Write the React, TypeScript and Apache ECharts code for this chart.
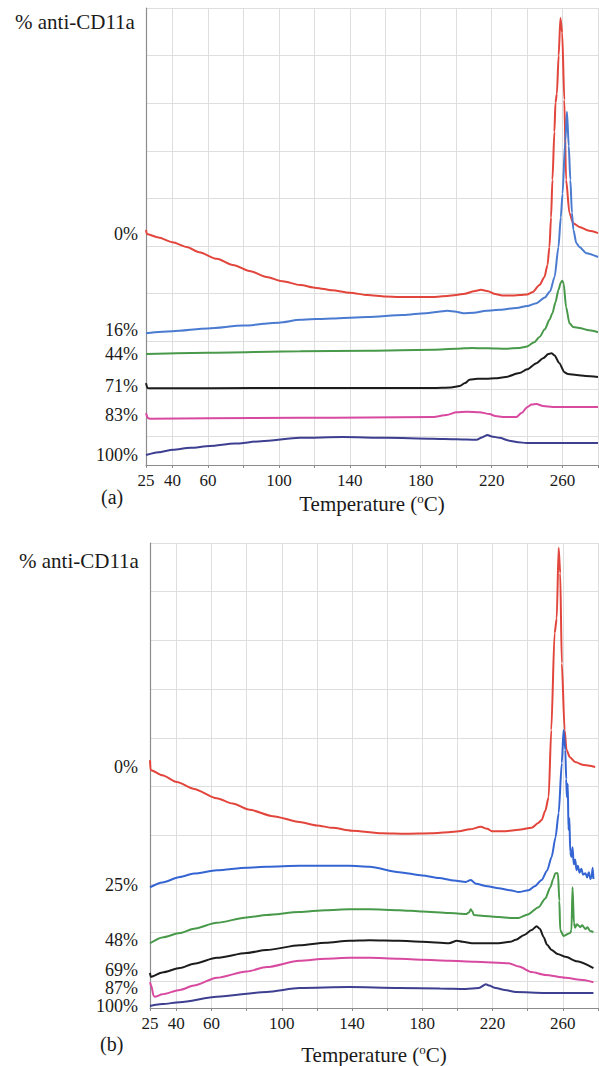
import React, { useEffect, useRef } from "react";
import * as echarts from "echarts";

// ---------- axis ticks / labels ----------
const xTickValues = [25, 40, 60, 80, 100, 120, 140, 160, 180, 200, 220, 240, 260, 280];
const xLabelValues = [25, 40, 60, 100, 140, 180, 220, 260];
const yGridA = [6, 16, 26, 36, 46, 56, 66, 76, 86, 96];
const yGridB = [5.5, 15.5, 25.5, 35.5, 45.5, 55.5, 65.5, 75.5, 85.5, 95.5];

// curve labels (% anti-CD11a) and their vertical positions
const labelsA = ["0%", "16%", "44%", "71%", "83%", "100%"];
const labelPosA = [48.5, 28.4, 23.3, 16.6, 10.5, 2.1];
const labelsB = ["0%", "25%", "48%", "69%", "87%", "100%"];
const labelPosB = [49.5, 25.3, 14.0, 7.8, 4.1, 0.4];

// ---------- panel (a) data: [temperature °C, signal] ----------
const redA = [[25,49.4],[25.5,48.5],[32,47.8],[40,46.8],[48,45.8],[55,44.7],[65,43.3],[74,42.0],[84,40.7],[93,39.5],[102,38.6],[112,37.8],[121,37.2],[130,36.7],[140,36.2],[150,35.7],[160,35.4],[168,35.3],[180,35.3],[187,35.3],[195,35.5],[200,35.7],[205,36.0],[210,36.5],[214,36.8],[218,36.5],[222,35.9],[226,35.6],[232,35.6],[236,35.7],[240,35.8],[243,36.3],[247,37.8],[249.8,39.5],[251.5,42],[252.6,45.8],[253.5,52],[254.3,59.9],[255.4,70],[256,76.1],[256.8,78],[257.8,86],[258.8,93.9],[259.8,90.8],[261,76.7],[262,59.9],[263.9,52.9],[266,50.8],[269.5,50.0],[275,49.2],[280,48.7]];
const blueA = [[25,27.7],[40,28.1],[60,28.7],[80,29.3],[100,29.9],[112,30.5],[130,30.8],[150,31.1],[170,31.5],[183,31.9],[190,32.2],[195,32.4],[200,32.2],[204,31.9],[210,32.0],[217,32.4],[225,32.6],[234,33.0],[240,33.4],[245.3,34.0],[250,35.2],[253,36.5],[255.5,39.5],[257.7,45.8],[259,52],[260,57],[261.5,68],[262.5,74.2],[263.5,67],[264.4,59.9],[265.3,53],[266.1,49.4],[267.8,46.6],[269.5,45.8],[273.5,44.5],[280,43.7]];
const greenA = [[25,23.3],[60,23.6],[112,23.9],[150,24.0],[187,24.2],[200,24.4],[209,24.6],[218,24.5],[228,24.4],[235.7,24.6],[240,24.9],[244,25.8],[247,26.9],[250,28.5],[252.6,30.5],[254.3,31.9],[256,34.2],[257.7,36.8],[259,38.3],[259.8,38.7],[260.6,38.2],[262,33.2],[263.9,29.8],[266,29.0],[269.5,28.8],[275,28.3],[280,27.9]];
const blackA = [[25,17.2],[25.8,16.2],[27,16.1],[60,16.1],[112,16.2],[150,16.2],[187,16.2],[197,16.3],[202,16.6],[205,17.2],[207.5,17.9],[212,18.1],[217,18.1],[222,18.2],[228,18.5],[235.7,19.3],[240,20.1],[245.3,21.4],[249,22.4],[252,23.3],[253.7,23.5],[255.5,23.0],[258.2,21.4],[261,19.5],[263,19.1],[267.8,18.9],[273,18.7],[280,18.5]];
const magentaA = [[25,10.9],[26.2,9.8],[27.5,9.7],[60,9.8],[112,9.9],[150,10.0],[187,10.1],[194.6,10.5],[200.2,11.1],[206,11.2],[213.2,11.1],[218.8,10.7],[222,10.3],[226.1,10.1],[234,10.1],[236.8,10.9],[240.2,12.2],[242.5,12.7],[245.3,12.8],[249,12.4],[254.3,12.2],[265,12.2],[280,12.2]];
const navyA = [[25,2.1],[32,2.7],[40.2,3.2],[50,3.6],[61,4.0],[75,4.5],[90,5.0],[111.8,5.7],[136,5.9],[160.8,5.7],[186.7,5.5],[200,5.4],[211.5,5.3],[214.5,5.8],[217.7,6.3],[220,6.0],[224.4,5.7],[230,5.1],[235,4.8],[239.6,4.6],[260,4.6],[280,4.6]];

// ---------- panel (b) data ----------
const redB = [[25,50.9],[25.3,48.9],[32,47.8],[40.3,46.4],[50,45.0],[63,43.1],[72,42.0],[81.7,40.7],[95,39.4],[110.1,38.2],[120,37.5],[128.8,37.0],[140,36.4],[157.2,35.9],[170,35.8],[185.5,35.9],[195,36.1],[200.8,36.3],[207,36.7],[213.3,37.2],[217,36.8],[219.6,36.3],[227.5,36.3],[234.9,36.6],[242.2,37.0],[246,38],[247.9,38.6],[250,40.5],[251.9,43.3],[253.4,57.1],[255.3,77.0],[256.5,80],[257.6,94.5],[258.5,89.3],[259.4,70.8],[261,57.1],[262.1,53.0],[264,51.5],[267,50.5],[272,49.9],[278.4,49.5]];
const blueB = [[25,24.8],[32,25.8],[42,26.9],[50,27.6],[63,28.3],[80,28.8],[91.4,29.0],[110.1,29.2],[125,29.2],[138.4,29.2],[150,29.0],[166.8,27.9],[180,27.2],[189.5,26.7],[198,26.2],[204.8,25.9],[207.6,26.3],[210.5,25.5],[217,25.0],[223.5,24.6],[230,24.2],[234.9,23.8],[240.5,24.2],[244,25],[247.9,26.3],[251,28.2],[253.6,31.0],[255.8,35],[257.6,40.0],[259.4,50.3],[260.4,57.1],[261.4,53.0],[261.9,47],[262.3,43.3],[262.8,46],[263.2,36.6],[263.7,39],[264.2,32],[264.9,31.0],[265.5,33],[266.2,29.5],[267,30.5],[267.8,28.3],[268.5,29.2],[269.5,27.8],[270.5,28.6],[271.5,27.4],[272.9,27.7],[273.8,26.8],[274.8,27.9],[275.7,26.5],[276.3,26.9],[277,28.8],[277.4,26.5]];
const greenB = [[25,13.3],[32,14.5],[42,15.4],[50,16.3],[63,17.5],[80,18.6],[91.4,19.1],[110.1,19.7],[125,20.1],[138.4,20.3],[150,20.3],[166.8,20.1],[180,19.8],[195.2,19.5],[204.8,19.3],[206.5,19.6],[207.6,20.3],[208.5,19.8],[209.3,19.1],[215,18.9],[223.5,18.7],[230,18.5],[234.9,18.5],[240,19.2],[246.2,20.7],[250,22.5],[252.9,24.8],[254.5,26.5],[255.7,27.7],[257.2,27.7],[258,22],[258.5,16.0],[260.4,14.8],[264.2,15.4],[264.9,16],[265.5,24.8],[266.3,17.5],[267,16.5],[268,17.2],[269.9,16.6],[271,17],[272.9,16.2],[274,16.6],[275.5,15.8],[277.4,15.6]];
const blackB = [[25,7.2],[25.4,6.4],[32,7.3],[42,8.2],[50,9.1],[63,10.3],[80,11.3],[91.4,11.9],[110.1,12.9],[125,13.4],[138.4,13.8],[150,13.9],[166.8,13.8],[180,13.6],[195.2,13.3],[199.7,13.8],[203,13.6],[208.2,13.3],[215,13.3],[223.5,13.3],[230,13.6],[233.2,14.0],[238,15.0],[242.2,16.0],[245.1,16.8],[247,16.2],[249,14.6],[251,13.0],[253.6,11.9],[257,11.1],[261.5,10.5],[268,9.6],[277.4,8.2]];
const magentaB = [[25,5.3],[25.8,4.5],[27,2.5],[27.8,2.3],[32,2.8],[42,3.7],[50,4.6],[63,6.2],[80,7.5],[91.4,8.4],[110.1,9.7],[125,10.1],[138.4,10.3],[150,10.3],[166.8,10.1],[180,9.9],[195.2,9.7],[210,9.5],[229.2,9.2],[235,8.5],[242.2,7.4],[250,6.8],[261.5,6.2],[270,5.8],[277.4,5.3]];
const navyB = [[25,0.4],[32,0.8],[42,1.2],[63,2.3],[91.4,3.3],[110.1,4.1],[138.4,4.3],[166.8,4.1],[190,4.0],[204.8,3.9],[212.2,4.1],[216.2,4.9],[218,4.6],[221.8,4.1],[227,3.7],[233.2,3.3],[250,3.1],[277.4,3.1]];

const SERIF = "'Liberation Serif', 'Times New Roman', serif";
const TXT = "#1a1a1a";
const GRID_LINE = "#dedede";
const AXIS_LINE = "#8c8c8c";

function xAxisFor(gridIndex: number, nameGap: number) {
  return {
    type: "value",
    gridIndex,
    min: 25,
    max: 280,
    axisLine: { show: true, lineStyle: { color: AXIS_LINE, width: 1.2 } },
    axisTick: { show: true, length: 3, customValues: xTickValues, lineStyle: { color: AXIS_LINE } },
    axisLabel: {
      customValues: xLabelValues,
      fontFamily: SERIF,
      fontSize: 17,
      color: TXT,
      margin: 7,
    },
    splitLine: { show: true, lineStyle: { color: GRID_LINE, width: 1 } },
    name: "Temperature ({sup|o}C)",
    nameLocation: "middle",
    nameGap,
    nameTextStyle: {
      fontFamily: SERIF,
      fontSize: 21,
      color: TXT,
      rich: {
        sup: { fontFamily: SERIF, fontSize: 13, color: TXT, verticalAlign: "top", padding: [0, 0, 10, 0] },
      },
    },
  };
}

function yAxisFor(gridIndex: number, max: number, grid: number[], labels: string[], pos: number[], margin: number) {
  return {
    type: "value",
    gridIndex,
    min: 0,
    max,
    axisLine: { show: true, lineStyle: { color: AXIS_LINE, width: 1.2 } },
    axisTick: { show: false, customValues: grid },
    axisLabel: {
      customValues: pos,
      formatter: (v: number) => {
        const i = pos.findIndex((p) => Math.abs(p - v) < 1e-6);
        return i >= 0 ? labels[i] : "";
      },
      fontFamily: SERIF,
      fontSize: 18,
      color: TXT,
      margin,
    },
    splitLine: { show: true, lineStyle: { color: GRID_LINE, width: 1 } },
  };
}

function line(name: string, data: number[][], color: string, idx: number) {
  return {
    type: "line",
    name,
    xAxisIndex: idx,
    yAxisIndex: idx,
    data,
    showSymbol: false,
    symbol: "none",
    smooth: 0.25,
    smoothMonotone: "x",
    lineStyle: { color, width: 2 },
    itemStyle: { color },
    z: 3,
  };
}

export default function App() {
  const ref = useRef<HTMLDivElement>(null);
  useEffect(() => {
    if (!ref.current) return;
    const chart = echarts.init(ref.current, null, { renderer: "svg" });
    chart.setOption({
      animation: false,
      backgroundColor: "#ffffff",
      grid: [
        { left: 146, top: 8, width: 452, height: 457, containLabel: false },
        { left: 150, top: 543, width: 448, height: 465, containLabel: false },
      ],
      xAxis: [xAxisFor(0, 27), xAxisFor(1, 35)],
      yAxis: [
        yAxisFor(0, 96, yGridA, labelsA, labelPosA, 8),
        yAxisFor(1, 95.5, yGridB, labelsB, labelPosB, 12),
      ],
      series: [
        line("0% (a)", redA, "#e2453b", 0),
        line("16% (a)", blueA, "#4a7bd0", 0),
        line("44% (a)", greenA, "#48994a", 0),
        line("71% (a)", blackA, "#1c1c1c", 0),
        line("83% (a)", magentaA, "#d84aa0", 0),
        line("100% (a)", navyA, "#3d3f90", 0),
        line("0% (b)", redB, "#e2453b", 1),
        line("25% (b)", blueB, "#3565d2", 1),
        line("48% (b)", greenB, "#48994a", 1),
        line("69% (b)", blackB, "#1c1c1c", 1),
        line("87% (b)", magentaB, "#d84aa0", 1),
        line("100% (b)", navyB, "#3d3f90", 1),
      ],
      graphic: [
        { type: "text", left: 15, top: 11, style: { text: "% anti-CD11a", font: `21px ${SERIF}`, fill: TXT } },
        { type: "text", left: 19, top: 550, style: { text: "% anti-CD11a", font: `21px ${SERIF}`, fill: TXT } },
        { type: "text", left: 101, top: 487, style: { text: "(a)", font: `20px ${SERIF}`, fill: TXT } },
        { type: "text", left: 100, top: 1034, style: { text: "(b)", font: `20px ${SERIF}`, fill: TXT } },
      ],
    });
    return () => chart.dispose();
  }, []);
  return (
    <div
      ref={ref}
      style={{ position: "absolute", left: 0, top: 0, width: 599, height: 1066, background: "#fff" }}
    />
  );
}
